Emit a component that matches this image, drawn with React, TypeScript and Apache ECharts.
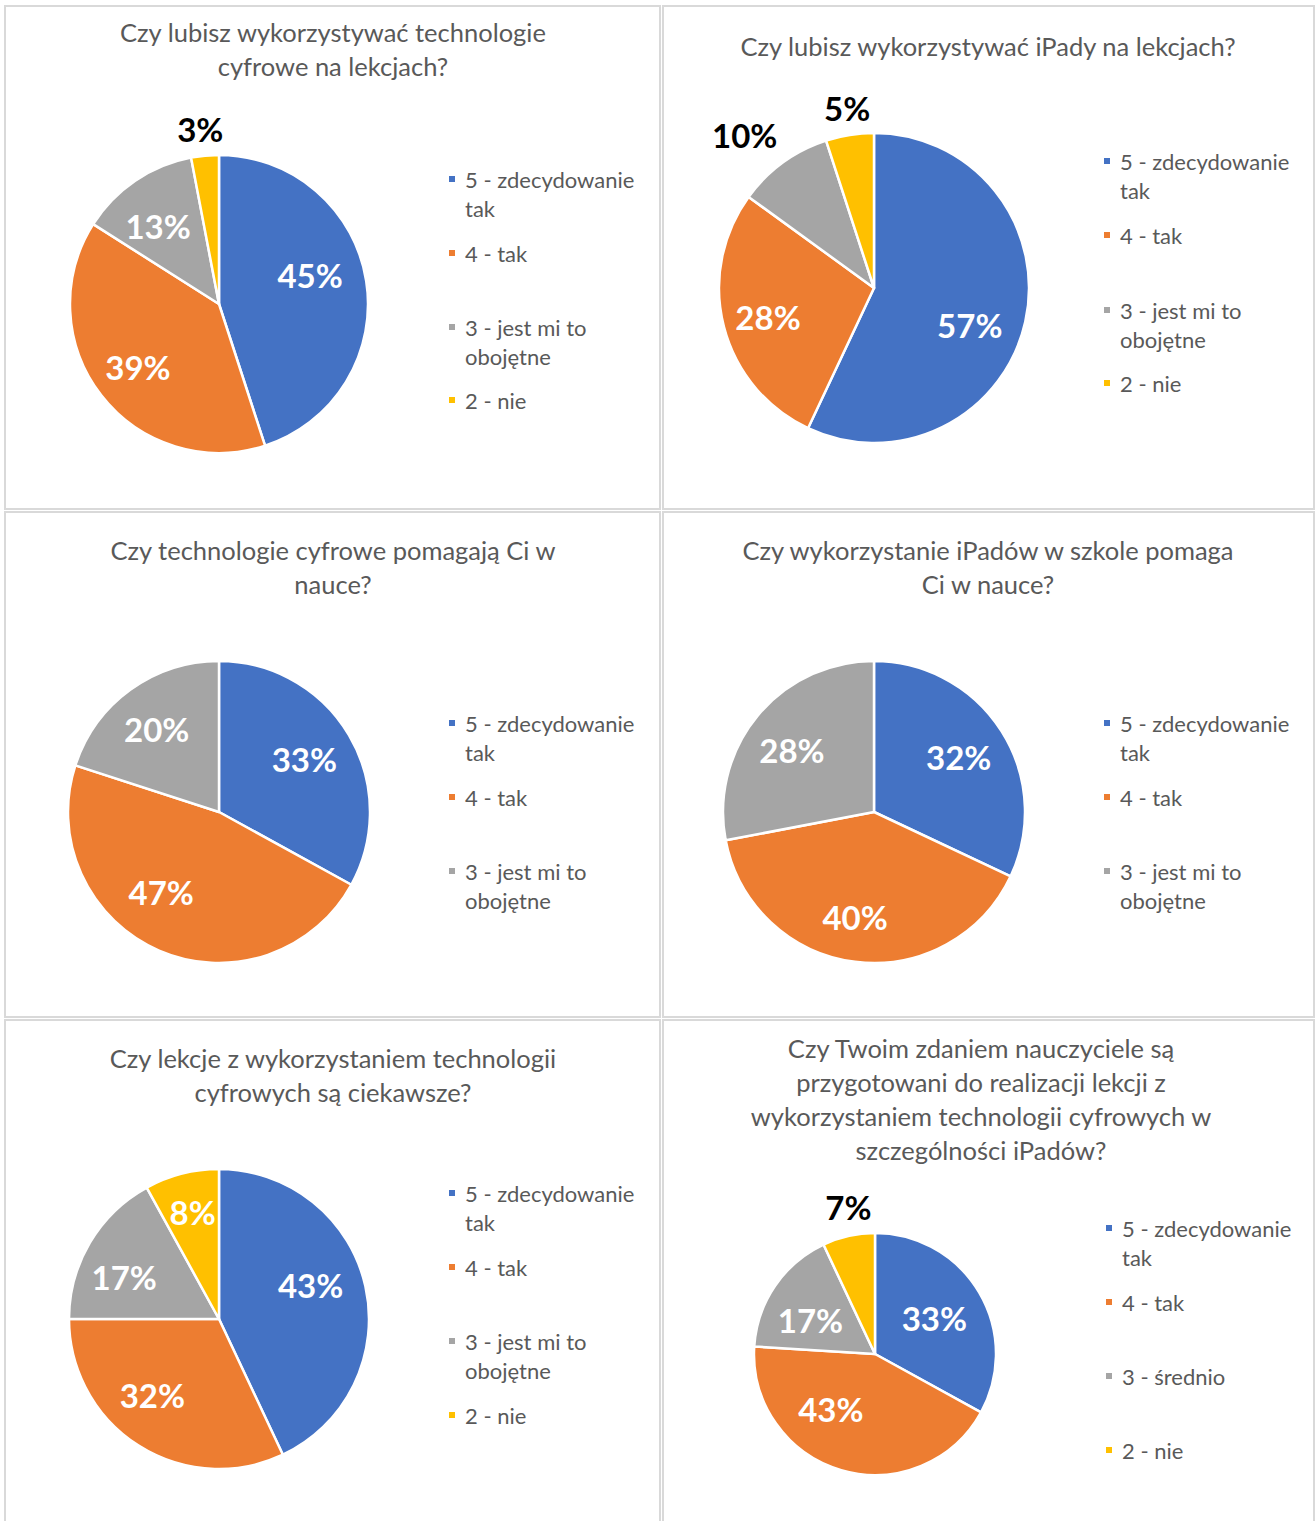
import React, { useEffect, useRef } from 'react';
import * as echarts from 'echarts';

// ---------- data ----------
const titles = [
  'Czy lubisz wykorzystywać technologie\ncyfrowe na lekcjach?',
  'Czy lubisz wykorzystywać iPady na lekcjach?',
  'Czy technologie cyfrowe pomagają Ci w\nnauce?',
  'Czy wykorzystanie iPadów w szkole pomaga\nCi w nauce?',
  'Czy lekcje z wykorzystaniem technologii\ncyfrowych są ciekawsze?',
  'Czy Twoim zdaniem nauczyciele są\nprzygotowani do realizacji lekcji z\nwykorzystaniem technologii cyfrowych w\nszczególności iPadów?',
];
const categories4 = ['5 - zdecydowanie\ntak', '4 - tak', '3 - jest mi to\nobojętne', '2 - nie'];
const categories3 = ['5 - zdecydowanie\ntak', '4 - tak', '3 - jest mi to\nobojętne'];
const categories6 = ['5 - zdecydowanie\ntak', '4 - tak', '3 - średnio', '2 - nie'];
const values1 = [45, 39, 13, 3];
const values2 = [57, 28, 10, 5];
const values3 = [33, 47, 20];
const values4 = [32, 40, 28];
const values5 = [43, 32, 17, 8];
const values6 = [33, 43, 17, 7];
const colors = ['#4472C4', '#ED7D31', '#A5A5A5', '#FFC000'];

// ---------- layout ----------
const FONT = 'Lato, "Noto Sans", sans-serif';
const LH = 29;
const panels = [
  { title: titles[0], titleX: 333, titleTop: 15, cats: categories4, values: values1, outside: [false, false, false, true],
    center: [219, 304], r: 149, legendX: 447, legendY: [179, 253, 327, 400], box: [5, 6, 655, 503],
    offsets: [[-9, -13], [-1, 1], [-4, 6], [-2, 2]] },
  { title: titles[1], titleX: 988, titleTop: 29, cats: categories4, values: values2, outside: [false, false, true, true],
    center: [874, 288], r: 155, legendX: 1102, legendY: [161, 235, 310, 383], box: [663, 6, 651, 503],
    offsets: [[-7, 14], [-4, 3], [-21, -4], [2, 2]] },
  { title: titles[2], titleX: 333, titleTop: 533, cats: categories3, values: values3, outside: [false, false, false],
    center: [219, 812], r: 151, legendX: 447, legendY: [723, 797, 871], box: [5, 512, 655, 505],
    offsets: [[-3, -1], [-17, -14], [-2, 0]] },
  { title: titles[3], titleX: 988, titleTop: 533, cats: categories3, values: values4, outside: [false, false, false],
    center: [874, 812], r: 151, legendX: 1102, legendY: [723, 797, 871], box: [663, 512, 651, 505],
    offsets: [[-2, 0], [-6, 3], [-3, 3]] },
  { title: titles[4], titleX: 333, titleTop: 1041, cats: categories4, values: values5, outside: [false, false, false, false],
    center: [219, 1319], r: 150, legendX: 447, legendY: [1193, 1267, 1341, 1415], box: [5, 1020, 655, 520],
    offsets: [[-8, -12], [-12, -10], [-7, 10], [-1, -8]] },
  { title: titles[5], titleX: 981, titleTop: 1031, cats: categories6, values: values6, outside: [false, false, false, true],
    center: [875, 1354], r: 121, legendX: 1104, legendY: [1228, 1302, 1376, 1450], box: [663, 1020, 651, 520],
    offsets: [[-12, 6], [-21, -25], [4, 13], [5, -6]] },
];

function buildOption() {
  const mainSeries: any[] = [];
  const overlaySeries: any[] = [];
  const legends: any[] = [];
  const graphics: any[] = [];

  panels.forEach((p, pi) => {
    graphics.push({
      type: 'rect',
      shape: { x: p.box[0], y: p.box[1], width: p.box[2], height: p.box[3] },
      style: { fill: 'none', stroke: '#d9d9d9', lineWidth: 2 },
      silent: true,
    });
    graphics.push({
      type: 'text',
      x: p.titleX,
      y: p.titleTop,
      style: {
        text: p.title,
        align: 'center',
        verticalAlign: 'top',
        fontFamily: FONT,
        fontSize: 25.5,
        lineHeight: 34,
        fill: '#595959',
      },
      silent: true,
    });

    mainSeries.push({
      type: 'pie',
      name: 'p' + pi,
      center: p.center,
      radius: [0, p.r],
      startAngle: 90,
      clockwise: true,
      label: { show: false },
      labelLine: { show: false },
      emphasis: { disabled: true },
      data: p.values.map((v, i) => ({
        name: p.cats[i],
        value: v,
        itemStyle: { color: colors[i], borderColor: '#ffffff', borderWidth: 2.5 },
      })),
    });

    const labelBase = {
      position: 'inside',
      formatter: '{c}%',
      fontFamily: FONT,
      fontWeight: 'bold',
      fontSize: 33,
    };
    overlaySeries.push({
      type: 'pie',
      center: p.center,
      radius: [p.r * 0.32, p.r],
      startAngle: 90,
      silent: true,
      legendHoverLink: false,
      emphasis: { disabled: true },
      labelLine: { show: false },
      itemStyle: { color: 'rgba(0,0,0,0)', borderWidth: 0 },
      label: { ...labelBase, color: '#ffffff' },
      data: p.values.map((v, i) => ({ value: v, label: { show: !p.outside[i], offset: p.offsets[i] } })),
    });
    overlaySeries.push({
      type: 'pie',
      center: p.center,
      radius: [p.r, p.r * 1.34],
      startAngle: 90,
      silent: true,
      legendHoverLink: false,
      emphasis: { disabled: true },
      labelLine: { show: false },
      itemStyle: { color: 'rgba(0,0,0,0)', borderWidth: 0 },
      label: { ...labelBase, color: '#000000' },
      data: p.values.map((v, i) => ({ value: v, label: { show: p.outside[i], offset: p.offsets[i] } })),
    });

    p.cats.forEach((name, i) => {
      const two = name.indexOf('\n') >= 0;
      legends.push({
        data: [name],
        left: p.legendX,
        top: p.legendY[i] - (two ? 1.5 * LH : 0.5 * LH),
        orient: 'vertical',
        padding: 0,
        itemWidth: 8,
        itemHeight: 8,
        icon: 'rect',
        selectedMode: false,
        formatter: (n: string) => (n.indexOf('\n') >= 0 ? '\n' + n : n),
        textStyle: { fontFamily: FONT, fontSize: 22, lineHeight: LH, color: '#595959', padding: [0, 0, 0, 4] },
      });
    });
  });

  return {
    animation: false,
    backgroundColor: '#ffffff',
    legend: legends,
    graphic: graphics,
    series: [...mainSeries, ...overlaySeries],
  };
}

export default function App() {
  const ref = useRef<HTMLDivElement>(null);
  useEffect(() => {
    document.body.style.margin = '0';
    if (!ref.current) return;
    const chart = echarts.init(ref.current, undefined, { renderer: 'svg' });
    chart.setOption(buildOption() as any);
    return () => chart.dispose();
  }, []);
  return <div ref={ref} style={{ width: 1316, height: 1521 }} />;
}
